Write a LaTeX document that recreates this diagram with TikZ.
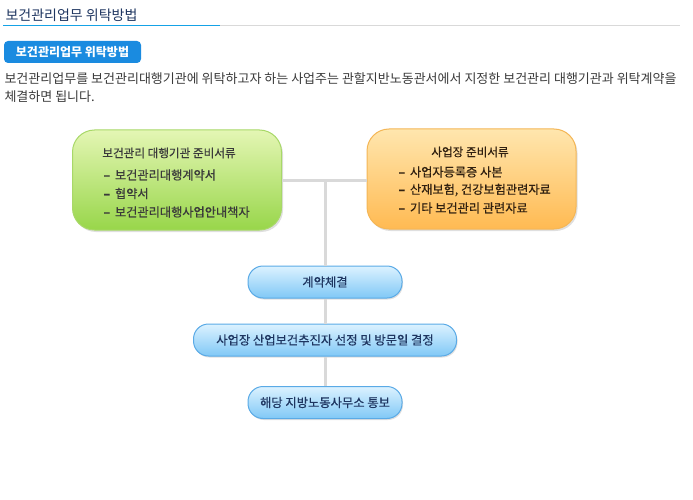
\documentclass[tikz,border=0pt]{standalone}
\usepackage{fontspec}
\setmainfont{Noto Sans CJK KR}
\newfontfamily\medfont[FakeBold=0.5]{Noto Sans CJK KR}
\usetikzlibrary{shadows}

\definecolor{navy}{HTML}{1E3560}
\definecolor{btnblue}{HTML}{1A8BE0}
\definecolor{linegrey}{HTML}{D9D9D9}
\definecolor{txtgrey}{HTML}{3A3A3A}
\definecolor{greentop}{HTML}{E4F6B4}
\definecolor{greenbot}{HTML}{98D64A}
\definecolor{greenline}{HTML}{A8D868}
\definecolor{orangetop}{HTML}{FFE6AE}
\definecolor{orangebot}{HTML}{FFBA52}
\definecolor{orangeline}{HTML}{F4B656}
\definecolor{bluetop}{HTML}{DCF2FF}
\definecolor{bluebot}{HTML}{80C8F6}
\definecolor{blueline}{HTML}{5AAAE6}

\begin{document}
\begin{tikzpicture}[x=1pt,y=-1pt,
  docbox/.style={draw, line width=1pt, rounded corners=22pt, minimum width=209pt, minimum height=100pt,
    drop shadow={shadow xshift=1.5pt, shadow yshift=-2pt, opacity=0.25}},
  greenbox/.style={docbox, draw=greenline, top color=greentop, bottom color=greenbot},
  orangebox/.style={docbox, draw=orangeline, top color=orangetop, bottom color=orangebot},
  stepbox/.style={draw=blueline, line width=1pt, rounded corners=15pt, minimum height=32pt,
    top color=bluetop, bottom color=bluebot,
    drop shadow={shadow xshift=1pt, shadow yshift=-1.5pt, opacity=0.25},
    font=\medfont\fontsize{12.3}{14}\selectfont, text=navy},
  boxhead/.style={font=\medfont\fontsize{11.6}{13}\selectfont, text=txtgrey},
  boxitem/.style={font=\medfont\fontsize{12.2}{14}\selectfont, text=txtgrey, anchor=west},
  link/.style={draw=linegrey, line width=3pt}]
\useasboundingbox (0,0) rectangle (693,500);

% heading
\node[anchor=west, text=navy, font=\fontsize{14}{16}\selectfont] (title) at (2,15) {보건관리업무 위탁방법};
\draw[linegrey, line width=1pt] (220,25.5) -- (680,25.5);
\draw[btnblue!80!cyan, line width=1.2pt] (3,25.5) -- (220,25.5);
\node[fill=btnblue, rounded corners=4pt, minimum width=137pt, minimum height=22pt, text=white,
  font=\bfseries\fontsize{12}{13}\selectfont] (btn) at (72.5,52) {보건관리업무 위탁방법};
\node[anchor=west, text=txtgrey, font=\fontsize{13}{15}\selectfont] (line1) at (1,79) {보건관리업무를 보건관리대행기관에 위탁하고자 하는 사업주는 관할지반노동관서에서 지정한 보건관리 대행기관과 위탁계약을};
\node[anchor=west, text=txtgrey, font=\fontsize{13}{15}\selectfont] (line2) at (1,97) {체결하면 됩니다.};

% documents
\node[greenbox] (agency) at (177,180) {};
\node[orangebox] (site) at (471.5,179) {};
\node[boxhead] (agencyhead) at (169,153) {보건관리 대행기관 준비서류};
\node[boxitem] (agency1) at (100,175) {\textbf{–}\, 보건관리대행계약서};
\node[boxitem] (agency2) at (100,193.5) {\textbf{–}\, 협약서};
\node[boxitem] (agency3) at (100,212) {\textbf{–}\, 보건관리대행사업안내책자};
\node[boxhead, text=black!75!brown] (sitehead) at (470,152) {사업장 준비서류};
\node[boxitem, text=black!75!brown] (site1) at (395,172) {\textbf{–}\, 사업자등록증 사본};
\node[boxitem, text=black!75!brown] (site2) at (395,190) {\textbf{–}\, 산재보험, 건강보험관련자료};
\node[boxitem, text=black!75!brown] (site3) at (395,208) {\textbf{–}\, 기타 보건관리 관련자료};

% steps
\node[stepbox, minimum width=154pt] (contract) at (325,282) {계약체결};
\node[stepbox, minimum width=263pt] (visit) at (325,340) {사업장 산업보건추진자 선정 및 방문일 결정};
\node[stepbox, minimum width=154pt] (notify) at (325,402.5) {해당 지방노동사무소 통보};
\coordinate (joint) at (325,180);

\path[link] (agency.east) -- (site.west |- agency.east);
\path[link] (joint) -- (contract);
\path[link] (contract) -- (visit);
\path[link] (visit) -- (notify);
\end{tikzpicture}
\end{document}
